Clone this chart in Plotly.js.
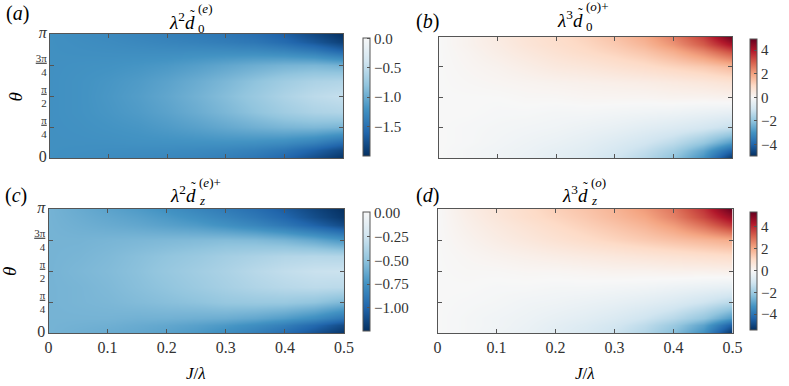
<!DOCTYPE html>
<html><head><meta charset="utf-8">
<script src="https://cdn.plot.ly/plotly-3.0.1.min.js"></script>
<style>html,body{margin:0;padding:0;background:#fff}#chart{width:789px;height:386px}</style>
</head><body><div id="chart"></div>
<script>
// ---- data ----
const J = [0, 0.05, 0.1, 0.15, 0.2, 0.25, 0.3, 0.35, 0.4, 0.45, 0.5];
// theta grid: 0, pi/16, pi/8, pi/4, 3pi/8, pi/2, 5pi/8, 3pi/4, 7pi/8, 15pi/16, pi
const theta = [0, 0.19635, 0.3927, 0.7854, 1.1781, 1.5708, 1.9635, 2.3562, 2.7489, 2.9452, 3.1416];

// (a) lambda^2 d0^(e)
const zA = [
  [-1.22,-1.24,-1.26,-1.28,-1.30,-1.33,-1.38,-1.45,-1.58,-1.78,-1.97],
  [-1.22,-1.23,-1.24,-1.25,-1.26,-1.28,-1.31,-1.36,-1.45,-1.62,-1.82],
  [-1.22,-1.22,-1.22,-1.21,-1.21,-1.21,-1.21,-1.23,-1.27,-1.37,-1.55],
  [-1.22,-1.21,-1.19,-1.17,-1.13,-1.08,-1.02,-0.96,-0.91,-0.89,-0.92],
  [-1.22,-1.20,-1.17,-1.13,-1.07,-0.99,-0.90,-0.80,-0.70,-0.62,-0.59],
  [-1.22,-1.20,-1.16,-1.11,-1.04,-0.95,-0.85,-0.74,-0.62,-0.52,-0.46],
  [-1.22,-1.20,-1.17,-1.13,-1.07,-0.99,-0.90,-0.80,-0.70,-0.62,-0.59],
  [-1.22,-1.21,-1.20,-1.18,-1.15,-1.10,-1.04,-0.98,-0.93,-0.91,-0.95],
  [-1.22,-1.23,-1.24,-1.25,-1.26,-1.26,-1.27,-1.29,-1.34,-1.44,-1.62],
  [-1.22,-1.24,-1.26,-1.29,-1.32,-1.35,-1.39,-1.44,-1.54,-1.70,-1.88],
  [-1.22,-1.25,-1.28,-1.32,-1.36,-1.40,-1.45,-1.52,-1.64,-1.82,-1.99]
];
// (b) lambda^3 d0^(o)+
const zB = [
  [0,-0.10,-0.20,-0.35,-0.50,-0.70,-1.00,-1.40,-2.00,-3.00,-4.90],
  [0,-0.10,-0.20,-0.30,-0.45,-0.60,-0.85,-1.20,-1.70,-2.60,-4.00],
  [0,-0.05,-0.15,-0.25,-0.35,-0.50,-0.70,-0.95,-1.30,-1.90,-2.80],
  [0,-0.05,-0.10,-0.15,-0.20,-0.30,-0.40,-0.55,-0.70,-0.90,-1.20],
  [0, 0.00,-0.05,-0.05,-0.10,-0.10,-0.15,-0.20,-0.25,-0.35,-0.45],
  [0, 0.00, 0.00, 0.05, 0.05, 0.10, 0.10, 0.10, 0.15, 0.15, 0.20],
  [0, 0.05, 0.10, 0.15, 0.20, 0.25, 0.30, 0.35, 0.45, 0.55, 0.70],
  [0, 0.10, 0.20, 0.35, 0.50, 0.60, 0.75, 0.90, 1.10, 1.30, 1.60],
  [0, 0.15, 0.35, 0.55, 0.75, 0.95, 1.15, 1.40, 1.80, 2.40, 3.20],
  [0, 0.20, 0.40, 0.65, 0.85, 1.05, 1.30, 1.65, 2.20, 3.00, 4.10],
  [0, 0.20, 0.45, 0.70, 0.90, 1.15, 1.45, 1.85, 2.50, 3.40, 4.90]
];
// (c) lambda^2 dz^(e)+
const zC = [
  [-0.58,-0.60,-0.62,-0.64,-0.67,-0.71,-0.77,-0.85,-0.95,-1.08,-1.22],
  [-0.58,-0.59,-0.60,-0.62,-0.64,-0.67,-0.71,-0.77,-0.85,-0.97,-1.12],
  [-0.58,-0.58,-0.58,-0.59,-0.59,-0.60,-0.61,-0.64,-0.69,-0.77,-0.90],
  [-0.58,-0.57,-0.56,-0.54,-0.52,-0.50,-0.47,-0.46,-0.46,-0.49,-0.56],
  [-0.58,-0.57,-0.55,-0.52,-0.49,-0.45,-0.41,-0.37,-0.34,-0.32,-0.33],
  [-0.58,-0.56,-0.54,-0.51,-0.47,-0.43,-0.39,-0.34,-0.30,-0.27,-0.26],
  [-0.58,-0.57,-0.55,-0.52,-0.49,-0.46,-0.42,-0.39,-0.36,-0.35,-0.36],
  [-0.58,-0.58,-0.57,-0.56,-0.55,-0.54,-0.53,-0.54,-0.57,-0.63,-0.72],
  [-0.58,-0.60,-0.62,-0.64,-0.67,-0.70,-0.75,-0.81,-0.89,-1.00,-1.12],
  [-0.58,-0.61,-0.64,-0.67,-0.71,-0.76,-0.82,-0.89,-0.98,-1.10,-1.21],
  [-0.58,-0.62,-0.66,-0.70,-0.75,-0.81,-0.87,-0.94,-1.03,-1.14,-1.24]
];
// (d) lambda^3 dz^(o)
const zD = [
  [0,-0.10,-0.25,-0.40,-0.60,-0.85,-1.15,-1.60,-2.30,-3.30,-5.40],
  [0,-0.10,-0.20,-0.35,-0.55,-0.75,-1.00,-1.40,-2.00,-2.90,-4.50],
  [0,-0.10,-0.20,-0.30,-0.45,-0.60,-0.80,-1.10,-1.50,-2.10,-3.10],
  [0,-0.05,-0.10,-0.20,-0.25,-0.35,-0.45,-0.60,-0.80,-1.10,-1.50],
  [0, 0.00,-0.05,-0.05,-0.10,-0.10,-0.15,-0.20,-0.30,-0.40,-0.50],
  [0, 0.05, 0.05, 0.10, 0.10, 0.15, 0.20, 0.20, 0.25, 0.25, 0.30],
  [0, 0.10, 0.20, 0.30, 0.40, 0.50, 0.60, 0.70, 0.80, 0.90, 1.00],
  [0, 0.20, 0.40, 0.60, 0.80, 1.00, 1.20, 1.40, 1.60, 1.80, 2.00],
  [0, 0.30, 0.55, 0.80, 1.05, 1.30, 1.55, 1.85, 2.30, 3.00, 3.90],
  [0, 0.35, 0.65, 0.95, 1.20, 1.45, 1.75, 2.10, 2.70, 3.60, 4.70],
  [0, 0.40, 0.70, 1.00, 1.30, 1.55, 1.85, 2.30, 2.90, 3.90, 5.40]
];

const thetaTickVals = [0, 0.7854, 1.5708, 2.3562, 3.1416];
const thetaTickText = ['<span style="font-size:16px">0</span>', '<u>π</u><br>4', '<u>π</u><br>2', '<u>3π</u><br>4', '<span style="font-size:16px"><i>π</i></span>'];
const jTickVals = [0, 0.1, 0.2, 0.3, 0.4, 0.5];
const jTickText = ['0', '0.1', '0.2', '0.3', '0.4', '0.5'];
const cbTickValsA = [0, -0.5, -1.0, -1.5];
const cbTickTextA = ['0.0', '−0.5', '−1.0', '−1.5'];
const cbTickValsC = [0, -0.25, -0.5, -0.75, -1.0];
const cbTickTextC = ['0.00', '−0.25', '−0.50', '−0.75', '−1.00'];
const cbTickValsBD = [4, 2, 0, -2, -4];
const cbTickTextBD = ['4', '2', '0', '−2', '−4'];

// ---- styling ----
const W = 789, H = 386;
const FONT = '"Liberation Serif", "DejaVu Serif", serif';
const blueHalf = [[0,'#053061'],[0.2,'#2166ac'],[0.4,'#4393c3'],[0.6,'#92c5de'],[0.8,'#d1e5f0'],[1,'#f7f7f7']];
const rdbu_r = [[0,'#053061'],[0.1,'#2166ac'],[0.2,'#4393c3'],[0.3,'#92c5de'],[0.4,'#d1e5f0'],[0.5,'#f7f7f7'],
                [0.6,'#fddbc7'],[0.7,'#f4a582'],[0.8,'#d6604d'],[0.9,'#b2182b'],[1,'#67001f']];

const dx = (a, b) => [a / W, b / W];
const dy = (top, bottom) => [1 - bottom / H, 1 - top / H];

function cb(x, top, bottom, vals, text) {
  return {x: x / W, xanchor: 'left', xpad: 0, ypad: 0, y: 1 - (top + bottom) / 2 / H, yanchor: 'middle',
    len: (bottom - top) / H, lenmode: 'fraction', thickness: 6.5, thicknessmode: 'pixels',
    outlinewidth: 1, outlinecolor: '#555', ticks: 'inside', ticklen: 3, tickcolor: '#555',
    tickvals: vals, ticktext: text, tickfont: {size: 15, family: FONT, color: '#333'}};
}
function hm(z, xa, ya, cs, zmin, zmax, bar) {
  return {type: 'heatmap', x: J, y: theta, z: z, xaxis: xa, yaxis: ya, zsmooth: 'best',
    colorscale: cs, zmin: zmin, zmax: zmax, colorbar: bar, hoverinfo: 'skip'};
}
const data = [
  hm(zA, 'x', 'y', blueHalf, -2.0, 0.02, cb(363.3, 37.3, 155.7, cbTickValsA, cbTickTextA)),
  hm(zB, 'x2', 'y2', rdbu_r, -4.95, 4.95, cb(750, 39, 155.7, cbTickValsBD, cbTickTextBD)),
  hm(zC, 'x3', 'y3', blueHalf, -1.24, 0.01, cb(363.3, 211.7, 330.7, cbTickValsC, cbTickTextC)),
  hm(zD, 'x4', 'y4', rdbu_r, -5.4, 5.4, cb(750, 211.7, 329.3, cbTickValsBD, cbTickTextBD))
];

function axis(extra) {
  return Object.assign({showline: true, linecolor: '#555', linewidth: 1, mirror: 'ticks', ticks: 'inside',
    ticklen: 4, tickcolor: '#555', tickwidth: 1, showgrid: false, zeroline: false, fixedrange: true,
    tickfont: {family: FONT, size: 16, color: '#333'}}, extra);
}
const xBase = {range: [0, 0.5], tickvals: jTickVals, ticktext: jTickText};
const yBase = {range: [0, 3.1416], tickvals: thetaTickVals, ticktext: thetaTickText};

function P(x, y) { return {x: x / W, y: 1 - y / H, xref: 'paper', yref: 'paper', showarrow: false}; }
function ann(x, y, text, size, xanchor, extra) {
  return Object.assign(P(x, y), {text: text, xanchor: xanchor || 'center', yanchor: 'middle',
    font: {family: FONT, size: size, color: '#000'}}, extra || {});
}

const annotations = [
  // panel labels
  ann(17.5, 13, '(<i>a</i>)', 20), ann(427, 22, '(<i>b</i>)', 20),
  ann(16, 195, '(<i>c</i>)', 20), ann(427, 195, '(<i>d</i>)', 20),
  // titles
  ann(197, 21, '<i>λ</i><sup>2</sup><i>d</i>', 19, 'right'), ann(192, 15, '˜', 14),
  ann(196, 28, '0', 13, 'left'), ann(196, 9, '(<i>e</i>)', 13, 'left'),
  ann(585, 19, '<i>λ</i><sup>3</sup><i>d</i>', 19, 'right'), ann(580, 13, '˜', 14),
  ann(584, 26, '0', 13, 'left'), ann(584, 7, '(<i>o</i>)+', 13, 'left'),
  ann(198, 194, '<i>λ</i><sup>2</sup><i>d</i>', 19, 'right'), ann(193, 188, '˜', 14),
  ann(197, 201, '<i>z</i>', 13, 'left'), ann(197, 182, '(<i>e</i>)+', 13, 'left'),
  ann(590, 194, '<i>λ</i><sup>3</sup><i>d</i>', 19, 'right'), ann(585, 188, '˜', 14),
  ann(589, 201, '<i>z</i>', 13, 'left'), ann(589, 182, '(<i>o</i>)', 13, 'left'),
  // axis titles
  ann(14.5, 97, '<i>θ</i>', 19, 'center', {textangle: -90}),
  ann(9, 272, '<i>θ</i>', 19, 'center', {textangle: -90}),
  ann(196, 373, '<i>J</i>/<i>λ</i>', 17), ann(585, 373, '<i>J</i>/<i>λ</i>', 17)
];

const layout = {
  width: W, height: H, margin: {l: 0, r: 0, t: 0, b: 0},
  paper_bgcolor: '#fff', plot_bgcolor: '#fff', showlegend: false,
  font: {family: FONT, color: '#333'},
  xaxis: axis(Object.assign({}, xBase, {domain: dx(50, 343), anchor: 'y', showticklabels: false})),
  yaxis: axis(Object.assign({}, yBase, {domain: dy(34, 158), anchor: 'x', tickfont: {family: FONT, size: 11, color: '#333'}})),
  xaxis2: axis(Object.assign({}, xBase, {domain: dx(439, 732), anchor: 'y2', showticklabels: false})),
  yaxis2: axis(Object.assign({}, yBase, {domain: dy(36.5, 158), anchor: 'x2', showticklabels: false})),
  xaxis3: axis(Object.assign({}, xBase, {domain: dx(48.5, 344), anchor: 'y3'})),
  yaxis3: axis(Object.assign({}, yBase, {domain: dy(209, 333), anchor: 'x3', tickfont: {family: FONT, size: 11, color: '#333'}})),
  xaxis4: axis(Object.assign({}, xBase, {domain: dx(437.5, 732.5), anchor: 'y4'})),
  yaxis4: axis(Object.assign({}, yBase, {domain: dy(209, 333), anchor: 'x4', showticklabels: false})),
  annotations: annotations
};

Plotly.newPlot('chart', data, layout, {staticPlot: true, displayModeBar: false});
</script>
</body></html>
